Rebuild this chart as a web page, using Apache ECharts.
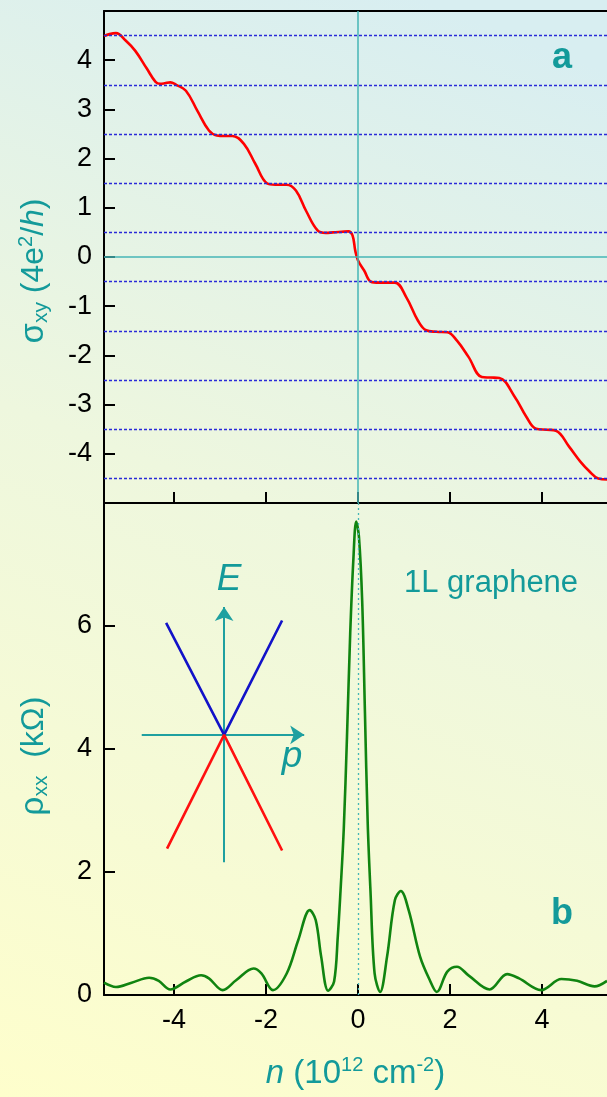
<!DOCTYPE html>
<html><head><meta charset="utf-8">
<script src="https://cdn.jsdelivr.net/npm/echarts@6/dist/echarts.min.js"></script>
<style>html,body{margin:0;padding:0;}#c{width:607px;height:1097px;}</style>
</head><body><div id="c"></div>
<script>
// ---- data ----
const sigmaN = [-5.52,-5.40,-5.26,-5.05,-4.84,-4.59,-4.40,-4.30,-4.20,-4.08,-3.95,-3.74,-3.49,-3.24,-3.07,-2.90,-2.73,-2.48,-2.23,-1.98,-1.80,-1.55,-1.35,-1.13,-0.88,-0.70,-0.54,-0.21,-0.12,-0.06,0.00,0.13,0.30,0.55,0.80,1.05,1.30,1.48,1.70,1.94,2.15,2.40,2.69,2.88,3.07,3.41,3.66,3.87,4.10,4.30,4.59,4.84,5.01,5.22,5.41];
const sigmaV = [4.49,4.53,4.55,4.40,4.19,3.83,3.56,3.52,3.53,3.55,3.50,3.38,2.97,2.57,2.47,2.46,2.46,2.30,1.89,1.50,1.47,1.47,1.35,0.94,0.54,0.49,0.50,0.52,0.44,0.13,-0.07,-0.27,-0.51,-0.52,-0.52,-0.82,-1.29,-1.49,-1.52,-1.53,-1.70,-2.03,-2.44,-2.45,-2.46,-2.85,-3.25,-3.49,-3.51,-3.53,-3.86,-4.17,-4.34,-4.50,-4.52];
const rhoN = [-5.52,-5.26,-4.92,-4.54,-4.33,-4.08,-3.74,-3.41,-3.24,-2.94,-2.65,-2.27,-2.10,-1.85,-1.55,-1.30,-1.05,-0.92,-0.80,-0.65,-0.52,-0.44,-0.38,-0.31,-0.24,-0.17,-0.10,-0.04,0.02,0.09,0.15,0.21,0.27,0.36,0.48,0.63,0.80,0.93,1.10,1.35,1.56,1.71,1.94,2.15,2.40,2.86,3.24,3.50,3.98,4.42,4.76,5.14,5.41];
const rhoV = [0.20,0.13,0.20,0.28,0.23,0.09,0.22,0.32,0.27,0.08,0.24,0.43,0.35,0.08,0.35,0.89,1.38,1.22,0.62,0.07,0.22,0.95,1.70,2.70,4.20,5.88,7.10,7.70,7.45,6.41,4.60,2.80,1.70,0.35,0.05,0.62,1.54,1.69,1.38,0.62,0.24,0.05,0.38,0.46,0.32,0.09,0.34,0.27,0.08,0.26,0.23,0.14,0.23];
const plateaus = [4.5,3.5,2.5,1.5,0.5,-0.5,-1.5,-2.5,-3.5,-4.5];
const xTicks = [-4,-2,0,2,4];
const sigmaTicks = [-4,-3,-2,-1,0,1,2,3,4];
const rhoTicks = [0,2,4,6];
const coneUpper = [[-4.17,6.05],[-2.91,4.23],[-1.65,6.09]];
const coneLower = [[-4.15,2.38],[-2.91,4.23],[-1.65,2.35]];
const arrowE = [[-2.91,2.16],[-2.91,6.31]];
const arrowP = [[-4.70,4.23],[-1.17,4.23]];

const F = 'Liberation Sans, Arial, Helvetica, sans-serif';
const TEAL = '#139a9a';
const CYAN = '#46b6b6';
const zip = (a,b) => a.map((v,i)=>[v,b[i]]);

const chart = echarts.init(document.getElementById('c'));
const axisLine = {show:true, onZero:false, lineStyle:{color:'#000', width:2}};
const tick = (vals)=>({show:true, inside:true, length:11, lineStyle:{color:'#000', width:2}, customValues: vals});
const tickLabel = (vals)=>({show:true, customValues:vals, color:'#000', fontSize:27, fontFamily:F, margin:12});

chart.setOption({
  backgroundColor: new echarts.graphic.LinearGradient(0,1,0.7,0,[
    {offset:0,color:'#fefecc'},{offset:0.55,color:'#eef7de'},{offset:1,color:'#d8eef1'}]),
  animation:false,
  grid:[
    {left:104, right:0, top:11, height:492},
    {left:104, right:0, top:503, height:492}
  ],
  xAxis:[
    {gridIndex:0, type:'value', min:-5.52, max:5.41, position:'bottom', axisLine, axisTick:tick(xTicks), axisLabel:{show:false}, splitLine:{show:false}},
    {gridIndex:0, type:'value', min:-5.52, max:5.41, position:'top', axisLine, axisTick:{show:false}, axisLabel:{show:false}, splitLine:{show:false}},
    {gridIndex:1, type:'value', min:-5.52, max:5.41, position:'bottom', axisLine, axisTick:tick(xTicks),
     axisLabel:tickLabel(xTicks),
     splitLine:{show:false},
     name:'{i|n}{t| (10}{sup|12}{t| cm}{sup|-2}{t|)}', nameLocation:'middle', nameGap:60,
     nameTextStyle:{rich:{
       i:{fontStyle:'italic', fontSize:33, color:TEAL, fontFamily:F, lineHeight:38},
       t:{fontSize:33, color:TEAL, fontFamily:F, lineHeight:38},
       sup:{fontSize:20, color:TEAL, fontFamily:F, verticalAlign:'top', lineHeight:20}
     }}}
  ],
  yAxis:[
    {gridIndex:0, type:'value', min:-5, max:5, interval:1, axisLine, axisTick:tick(sigmaTicks),
     axisLabel:tickLabel(sigmaTicks),
     splitLine:{show:false},
     name:'{g|σ}{sub|xy}{t| (4e}{sup|2}{t|/}{i|h}{t|)}', nameLocation:'middle', nameGap:52, nameRotate:90,
     nameTextStyle:{padding:[0,28,0,0], rich:{
       g:{fontSize:33, color:TEAL, fontFamily:F, lineHeight:36},
       t:{fontSize:32, color:TEAL, fontFamily:F, lineHeight:36},
       i:{fontSize:32, fontStyle:'italic', color:TEAL, fontFamily:F, lineHeight:36},
       sub:{fontSize:21, color:TEAL, fontFamily:F, verticalAlign:'bottom', lineHeight:20},
       sup:{fontSize:20, color:TEAL, fontFamily:F, verticalAlign:'top', lineHeight:20}
     }}},
    {gridIndex:1, type:'value', min:0, max:8, interval:2, axisLine, axisTick:tick(rhoTicks),
     axisLabel:tickLabel(rhoTicks),
     splitLine:{show:false},
     name:'{g|ρ}{sub|xx}{t|  (kΩ)}', nameLocation:'middle', nameGap:52, nameRotate:90,
     nameTextStyle:{padding:[0,14,0,0], rich:{
       g:{fontSize:33, color:TEAL, fontFamily:F, lineHeight:36},
       t:{fontSize:32, color:TEAL, fontFamily:F, lineHeight:36},
       sub:{fontSize:21, color:TEAL, fontFamily:F, verticalAlign:'bottom', lineHeight:20}
     }}}
  ],
  series:[
    {type:'line', xAxisIndex:0, yAxisIndex:0, data:[], z:1, silent:true,
     markLine:{silent:true, symbol:'none', label:{show:false}, animation:false,
       data: plateaus.map(v=>({yAxis:v, lineStyle:{type:[3,2], color:'#2a2ad8', width:1.3}}))
         .concat([{xAxis:0, lineStyle:{type:'solid', color:CYAN, width:1.5}},
                  {yAxis:0, lineStyle:{type:'solid', color:CYAN, width:1.5}}])}},
    {type:'line', xAxisIndex:0, yAxisIndex:0, data:zip(sigmaN,sigmaV), smooth:0.4, symbol:'none', z:3,
     lineStyle:{color:'#ff0000', width:2.6}},
    {type:'line', xAxisIndex:2, yAxisIndex:1, data:[], z:1, silent:true,
     markLine:{silent:true, symbol:'none', label:{show:false}, animation:false,
       data:[{xAxis:0, lineStyle:{type:[2,3], color:CYAN, width:1.3}}]}},
    {type:'line', xAxisIndex:2, yAxisIndex:1, data:zip(rhoN,rhoV), smooth:0.35, symbol:'none', z:3,
     lineStyle:{color:'#108410', width:2.6}},
    {type:'line', xAxisIndex:2, yAxisIndex:1, data:coneUpper, symbol:'none', z:4, lineStyle:{color:'#1212c8', width:2.6}},
    {type:'line', xAxisIndex:2, yAxisIndex:1, data:coneLower, symbol:'none', z:4, lineStyle:{color:'#ff1010', width:2.6}},
    {type:'lines', coordinateSystem:'cartesian2d', xAxisIndex:2, yAxisIndex:1, z:3,
     symbol:['none','arrow'], symbolSize:14,
     lineStyle:{color:'#1fa0a0', width:2, opacity:1, curveness:0},
     data:[{coords:arrowE},{coords:arrowP}]}
  ],
  graphic:[
    {type:'text', x:562, y:58, style:{text:'a', font:'bold 36px '+F, fill:TEAL, align:'center', verticalAlign:'middle'}},
    {type:'text', x:562, y:914, style:{text:'b', font:'bold 36px '+F, fill:TEAL, align:'center', verticalAlign:'middle'}},
    {type:'text', x:404, y:583, style:{text:'1L graphene', font:'31px '+F, fill:TEAL, align:'left', verticalAlign:'middle'}},
    {type:'text', x:229, y:580, style:{text:'E', font:'italic 37px '+F, fill:TEAL, align:'center', verticalAlign:'middle'}},
    {type:'text', x:292, y:757, style:{text:'p', font:'italic 37px '+F, fill:TEAL, align:'center', verticalAlign:'middle'}}
  ]
});
</script></body></html>
